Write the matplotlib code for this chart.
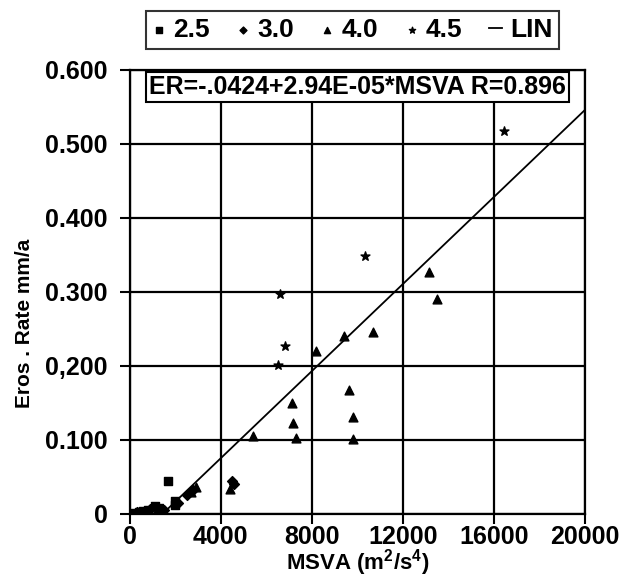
import numpy as np
import matplotlib
matplotlib.use('Agg')
import matplotlib.pyplot as plt

plt.rcParams['font.family'] = ['Liberation Sans', 'DejaVu Sans']
plt.rcParams['font.weight'] = 'bold'
plt.rcParams['mathtext.fontset'] = 'custom'
plt.rcParams['mathtext.rm'] = 'Liberation Sans:bold'
plt.rcParams['mathtext.bf'] = 'Liberation Sans:bold'
plt.rcParams['mathtext.default'] = 'bf'

# data (MSVA, erosion rate)
x_25 = [150, 400, 600, 800, 1100, 1300, 1700, 2000, 2000]
y_25 = [0.001, 0.003, 0.004, 0.005, 0.010, 0.008, 0.044, 0.018, 0.012]

x_30 = [300, 900, 1500, 2100, 2500, 2800, 4500, 4600]
y_30 = [0.002, 0.006, 0.005, 0.014, 0.025, 0.032, 0.045, 0.040]

x_40 = [500, 1200, 2700, 2900, 4400, 5430, 7150, 7170, 7300, 8190,
        9400, 9620, 9810, 9810, 10690, 13140, 13510]
y_40 = [0.003, 0.005, 0.030, 0.036, 0.034, 0.105, 0.150, 0.123, 0.102, 0.220,
        0.241, 0.168, 0.131, 0.101, 0.246, 0.327, 0.290]

x_45 = [6500, 6610, 6830, 10320, 16450]
y_45 = [0.201, 0.297, 0.227, 0.349, 0.518]

intercept = -0.0424
slope = 2.94e-05

x_ticks = [0, 4000, 8000, 12000, 16000, 20000]
y_ticks = [0, 0.1, 0.2, 0.3, 0.4, 0.5, 0.6]
y_ticklabels = ['0', '0.100', '0,200', '0.300', '0.400', '0.500', '0.600']

fig = plt.figure(figsize=(6.24, 5.78), dpi=100)
ax = fig.add_axes([0.208, 0.111, 0.729, 0.768])

ax.scatter(x_25, y_25, marker='s', s=30, color='black', zorder=3, label='2.5')
ax.scatter(x_30, y_30, marker='D', s=25, color='black', zorder=3, label='3.0')
ax.scatter(x_40, y_40, marker='^', s=40, color='black', zorder=3, label='4.0')
ax.scatter(x_45, y_45, marker='*', s=45, color='black', zorder=3, label='4.5')

xl = np.array([0, 20000])
ax.plot(xl, intercept + slope * xl, color='black', lw=1.3, zorder=2, label='LIN')

ax.set_xlim(0, 20000)
ax.set_ylim(0, 0.6)
ax.set_xticks(x_ticks)
ax.set_yticks(y_ticks)
ax.set_yticklabels(y_ticklabels)
ax.tick_params(labelsize=18, width=1.5, length=7, direction='out')
ax.tick_params(axis='y', pad=9)
ax.tick_params(axis='x', pad=1)
ax.grid(True, color='black', lw=1.6)
ax.set_axisbelow(True)
for sp in ax.spines.values():
    sp.set_linewidth(1.6)

ax.set_xlabel('MSVA (m$^2$/s$^4$)', fontsize=16, fontweight='bold', labelpad=-1)
ax.set_ylabel('Eros . Rate mm/a', fontsize=15, fontweight='bold')
ax.yaxis.set_label_coords(-0.21, 0.43)

ax.text(0.5, 0.962, 'ER=-.0424+2.94E-05*MSVA R=0.896', transform=ax.transAxes,
        ha='center', va='center', fontsize=18, fontweight='bold',
        bbox=dict(boxstyle='square,pad=0.12', facecolor='white', edgecolor='black', lw=1.5),
        zorder=5)

handles, labels = ax.get_legend_handles_labels()
leg = fig.legend(handles, labels, loc='center', bbox_to_anchor=(0.565, 0.948), ncol=5,
                 fontsize=19, frameon=True, fancybox=False, edgecolor='black',
                 handlelength=0.5, handletextpad=0.3, columnspacing=1.0,
                 borderpad=0.25, markerscale=0.7)
leg.get_frame().set_linewidth(1.5)

fig.savefig('out.png', dpi=100)
